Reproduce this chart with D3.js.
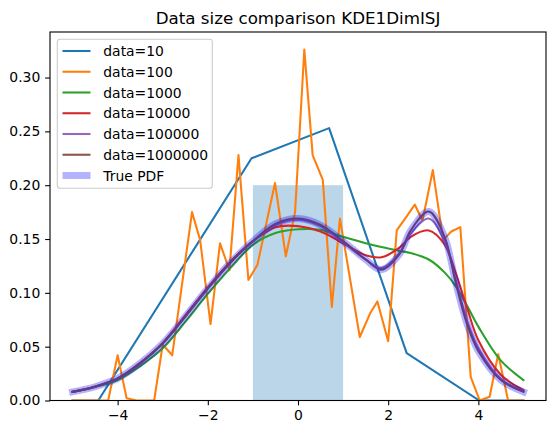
<!DOCTYPE html>
<html><head><meta charset="utf-8">
<script src="https://cdn.jsdelivr.net/npm/d3@7"></script>
<style>body{margin:0;background:#fff}svg text{font-family:"DejaVu Sans",sans-serif;fill:#000}</style>
</head><body><svg id="c" width="556" height="435"></svg>
<script>
const title = "Data size comparison KDE1DimISJ";
const xTicks = [-4, -2, 0, 2, 4];
const yTicks = [0, 0.05, 0.10, 0.15, 0.20, 0.25, 0.30];
const seriesNames = ["data=10", "data=100", "data=1000", "data=10000", "data=100000", "data=1000000"];
const seriesColors = ["#1f77b4", "#ff7f0e", "#2ca02c", "#d62728", "#9467bd", "#8c564b"];
const trueName = "True PDF";

// data=10
const x10 = [-5.0, -4.43, -1.03, 0.69, 2.41, 4.02, 5.0];
const y10 = [0, 0, 0.225, 0.253, 0.044, 0, 0];
// data=100
const x100 = [-5.0, -4.21, -4.0, -3.80, -3.58, -3.19, -3.0, -2.79, -2.35, -2.17, -1.94, -1.73, -1.52, -1.32, -1.10, -0.90, -0.51, -0.27, -0.065, 0.14, 0.325, 0.55, 0.75, 0.93, 1.37, 1.60, 1.76, 2.00, 2.19, 2.41, 2.59, 2.76, 2.99, 3.22, 3.40, 3.60, 3.83, 4.03, 4.25, 4.44, 4.66, 5.0];
const y100 = [0, 0, 0.042, 0.002, 0, 0, 0.052, 0.042, 0.175, 0.149, 0.071, 0.146, 0.121, 0.228, 0.112, 0.126, 0.202, 0.134, 0.175, 0.326, 0.228, 0.205, 0.087, 0.169, 0.059, 0.081, 0.092, 0.055, 0.158, 0.171, 0.182, 0.167, 0.214, 0.149, 0.157, 0.161, 0.022, 0, 0.0035, 0.043, 0, 0];
// smooth estimates
const xs = [-5, -4.5, -4, -3.5, -3, -2.5, -2, -1.5, -1, -0.5, 0, 0.5, 1, 1.5, 1.85, 2.25, 2.5, 2.9, 3.25, 3.5, 3.75, 4, 4.5, 5];
const y1000 = [0.008, 0.0125, 0.019, 0.032, 0.0485, 0.073, 0.099, 0.123, 0.1445, 0.1555, 0.159, 0.1585, 0.152, 0.146, 0.1425, 0.139, 0.137, 0.131, 0.119, 0.106, 0.088, 0.0686, 0.037, 0.019];
const y10000 = [0.008, 0.013, 0.0205, 0.035, 0.0535, 0.079, 0.105, 0.129, 0.148, 0.161, 0.162, 0.157, 0.146, 0.135, 0.133, 0.142, 0.152, 0.158, 0.145, 0.118, 0.086, 0.056, 0.024, 0.0095];
const y100000 = [0.008, 0.0128, 0.0205, 0.0345, 0.053, 0.078, 0.104, 0.128, 0.148, 0.163, 0.168, 0.162, 0.147, 0.131, 0.123, 0.137, 0.155, 0.169, 0.148, 0.112, 0.074, 0.0485, 0.02, 0.0085];
const y1000000 = [0.008, 0.0128, 0.0205, 0.0345, 0.053, 0.078, 0.104, 0.128, 0.148, 0.164, 0.169, 0.163, 0.148, 0.131, 0.1215, 0.136, 0.158, 0.1755, 0.152, 0.109, 0.071, 0.046, 0.019, 0.008];
const yTrue = [0.008, 0.0128, 0.0205, 0.0345, 0.053, 0.078, 0.104, 0.128, 0.148, 0.164, 0.169, 0.163, 0.148, 0.131, 0.1215, 0.136, 0.158, 0.1755, 0.152, 0.109, 0.071, 0.046, 0.019, 0.008];
// shaded band
const bandX = [-1, 1];
const bandTop = 0.2;

const svg = d3.select("#c");
const L = 50, R = 546, T = 32, B = 400.5;
const x = d3.scaleLinear().domain([-5.5, 5.5]).range([L, R]);
const y = d3.scaleLinear().domain([0, 0.3423]).range([B, T]);

svg.append("clipPath").attr("id", "clip").append("rect")
  .attr("x", L).attr("y", T).attr("width", R - L).attr("height", B - T);
const plot = svg.append("g").attr("clip-path", "url(#clip)");

plot.append("rect").attr("x", x(bandX[0])).attr("y", y(bandTop))
  .attr("width", x(bandX[1]) - x(bandX[0])).attr("height", y(0) - y(bandTop))
  .attr("fill", "#1f77b4").attr("fill-opacity", 0.3);

const lin = d3.line().x(d => x(d[0])).y(d => y(d[1]));
const smooth = d3.line().x(d => x(d[0])).y(d => y(d[1])).curve(d3.curveCatmullRom.alpha(0.5));
const zip = (a, b) => a.map((v, i) => [v, b[i]]);

const series = [
  [zip(x10, y10), lin],
  [zip(x100, y100), lin],
  [zip(xs, y1000), smooth],
  [zip(xs, y10000), smooth],
  [zip(xs, y100000), smooth],
  [zip(xs, y1000000), smooth]
];
series.forEach((s, i) => {
  plot.append("path").attr("d", s[1](s[0])).attr("fill", "none")
    .attr("stroke", seriesColors[i]).attr("stroke-width", 2.08)
    .attr("stroke-linejoin", "round").attr("stroke-linecap", "square");
});
plot.append("path").attr("d", smooth(zip(xs, yTrue))).attr("fill", "none")
  .attr("stroke", "#0000ff").attr("stroke-opacity", 0.3).attr("stroke-width", 6.94)
  .attr("stroke-linecap", "square").attr("stroke-linejoin", "round");

// axes
const xa = svg.append("g").attr("transform", `translate(0,${B})`)
  .call(d3.axisBottom(x).tickValues(xTicks).tickSize(4.86).tickPadding(4.5).tickFormat(d3.format("d")));
const ya = svg.append("g").attr("transform", `translate(${L},0)`)
  .call(d3.axisLeft(y).tickValues(yTicks).tickSize(4.86).tickPadding(4.9).tickFormat(d3.format(".2f")));
[xa, ya].forEach(a => {
  a.select(".domain").remove();
  a.selectAll("line").attr("stroke", "#000").attr("stroke-width", 1.1);
  a.selectAll("text").attr("font-size", 13.9).attr("font-family", "DejaVu Sans");
});
svg.append("rect").attr("x", L).attr("y", T).attr("width", R - L).attr("height", B - T)
  .attr("fill", "none").attr("stroke", "#000").attr("stroke-width", 1.1);

svg.append("text").attr("x", (L + R) / 2).attr("y", 23.5).attr("text-anchor", "middle")
  .attr("font-size", 16.7).text(title);

// legend
const lg = svg.append("g");
lg.append("rect").attr("x", 57.3).attr("y", 39.3).attr("width", 155).attr("height", 149)
  .attr("rx", 2.8).attr("fill", "#fff").attr("fill-opacity", 0.8)
  .attr("stroke", "#cccccc").attr("stroke-width", 1.1);
const names = seriesNames.concat([trueName]);
names.forEach((n, i) => {
  const yy = 51 + i * 20.75;
  const isTrue = i === names.length - 1;
  lg.append("line").attr("x1", 62.5).attr("x2", 90.5).attr("y1", yy).attr("y2", yy)
    .attr("stroke", isTrue ? "#0000ff" : seriesColors[i])
    .attr("stroke-opacity", isTrue ? 0.3 : 1)
    .attr("stroke-width", isTrue ? 6.94 : 2.08);
  lg.append("text").attr("x", 103.3).attr("y", yy).attr("dy", "0.36em")
    .attr("font-size", 13.9).text(n);
});
</script></body></html>
